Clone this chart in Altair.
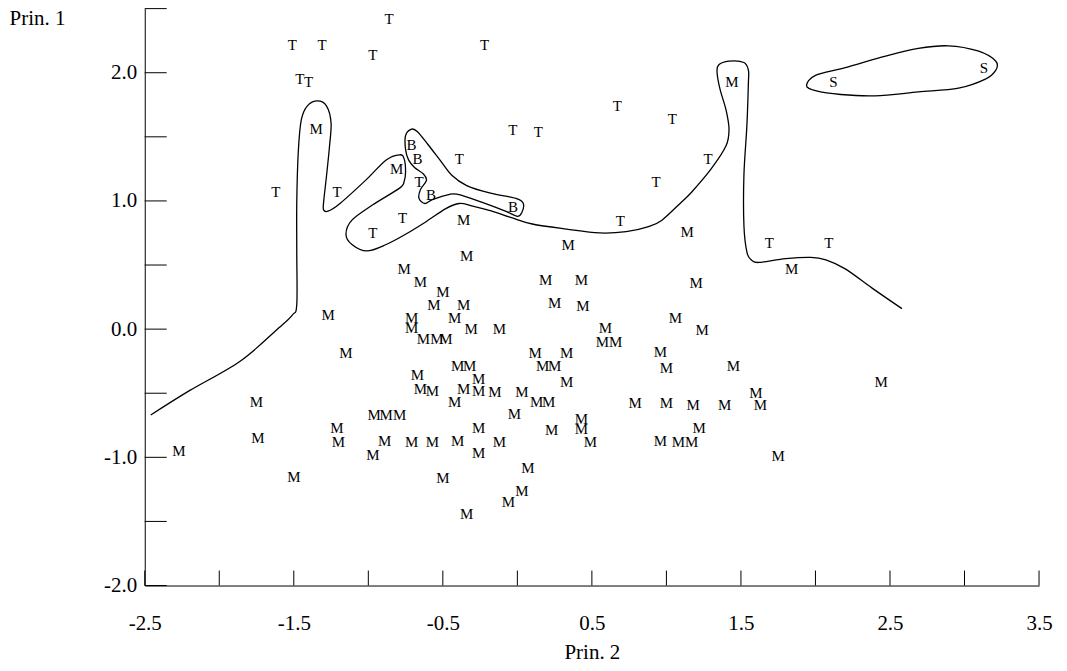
import altair as alt
import pandas as pd

# ---- point labels (Prin. 2 = x, Prin. 1 = y) ----
t_x = [-0.86, -1.51, -1.31, -0.97, -0.22, -1.46, -1.40, -1.62, -1.21, -0.03, 0.14,
       0.67, 1.04, 1.28, 0.93, -0.39, -0.66, -0.77, -0.97, 0.69, 1.69, 2.09]
t_y = [2.42, 2.22, 2.22, 2.14, 2.22, 1.95, 1.93, 1.07, 1.07, 1.55, 1.54,
       1.74, 1.64, 1.33, 1.15, 1.33, 1.15, 0.87, 0.75, 0.84, 0.67, 0.67]

m_x = [-1.35, -0.81, 1.44, -0.36,
       0.34, 1.14, -0.34, -0.76, -0.65, 0.19, 0.43, 1.20, 1.84, -0.50,
       -0.56, -0.36, 0.25, 0.44, -1.27, -0.71, -0.42, -0.71, -0.31, -0.12,
       -0.63, -0.54, -0.48, 0.59, 0.57, 0.66, 1.06, 1.24, -1.15, 0.12,
       0.33, 0.96, -0.40, -0.32, 0.17, 0.25, 1.00, 1.45, -0.67, -0.26,
       0.33, 2.44, -0.65, -0.57, -0.36, -0.26, -0.15, 0.03, 1.60, -0.42,
       0.13, 0.21, 0.79, 1.00, 1.18, 1.39, 1.63, -1.75, -0.96, -0.88,
       -0.79, -0.02, 0.43, -1.21, -0.26, 0.23, 0.43, 1.22, -1.74, -1.20,
       -0.89, -0.71, -0.57, -0.40, -0.12, 0.49, 0.96, 1.08, 1.17, -0.26,
       -0.97, -2.27, 1.75, 0.07, -0.50, -1.50, 0.03, -0.06, -0.34]
m_y = [1.56, 1.25, 1.93, 0.85,
       0.66, 0.76, 0.57, 0.47, 0.37, 0.38, 0.38, 0.36, 0.47, 0.29,
       0.19, 0.19, 0.20, 0.18, 0.11, 0.09, 0.09, 0.01, 0.00, 0.00,
       -0.08, -0.08, -0.08, 0.01, -0.10, -0.10, 0.09, -0.01, -0.19, -0.19,
       -0.19, -0.18, -0.29, -0.29, -0.29, -0.29, -0.30, -0.29, -0.36, -0.39,
       -0.41, -0.41, -0.47, -0.48, -0.47, -0.48, -0.49, -0.49, -0.50, -0.57,
       -0.57, -0.57, -0.58, -0.58, -0.59, -0.59, -0.59, -0.57, -0.67, -0.67,
       -0.67, -0.66, -0.70, -0.77, -0.77, -0.79, -0.78, -0.77, -0.85, -0.88,
       -0.87, -0.88, -0.88, -0.87, -0.88, -0.88, -0.87, -0.88, -0.88, -0.97,
       -0.98, -0.95, -0.99, -1.08, -1.16, -1.15, -1.26, -1.35, -1.44]

b_x = [-0.71, -0.67, -0.58, -0.03]
b_y = [1.44, 1.33, 1.05, 0.95]

s_x = [2.12, 3.13]
s_y = [1.93, 2.04]

# ---- boundary curves ----
curve_x = [-2.46, -2.20, -1.86, -1.60, -1.51, -1.48, -1.48, -1.48, -1.47, -1.45, -1.41,
           -1.34, -1.28, -1.25, -1.26, -1.28, -1.30, -1.30, -1.27, -1.19, -1.01, -0.88,
           -0.79, -0.76, -0.75, -0.76, -0.79, -0.97, -1.11, -1.15, -1.11, -1.01, -0.88,
           -0.75, -0.61, -0.48, -0.39, -0.30, -0.17, -0.04, 0.10, 0.33, 0.55, 0.73,
           0.88, 0.97, 1.10, 1.17, 1.30, 1.40, 1.42, 1.40, 1.36, 1.34, 1.35, 1.42,
           1.52, 1.55, 1.55, 1.54, 1.52, 1.52, 1.54, 1.57, 1.62, 1.80, 1.97, 2.07,
           2.20, 2.38, 2.58]
curve_y = [-0.67, -0.48, -0.25, 0.01, 0.11, 0.19, 0.60, 0.99, 1.38, 1.63, 1.74,
           1.78, 1.74, 1.61, 1.43, 1.20, 0.99, 0.93, 0.92, 0.98, 1.17, 1.32,
           1.36, 1.33, 1.23, 1.15, 1.10, 0.97, 0.85, 0.74, 0.66, 0.61, 0.66,
           0.74, 0.84, 0.94, 0.98, 0.96, 0.92, 0.87, 0.82, 0.78, 0.75, 0.76,
           0.80, 0.85, 0.99, 1.07, 1.25, 1.43, 1.56, 1.71, 1.87, 2.00, 2.06, 2.09,
           2.08, 2.02, 1.92, 1.59, 1.20, 0.81, 0.60, 0.54, 0.52, 0.55, 0.56, 0.54,
           0.47, 0.32, 0.16]

b_loop_x = [-0.75, -0.71, -0.67, -0.60, -0.52, -0.44, -0.34, -0.18, -0.01, 0.04, 0.03,
            0.00, -0.08, -0.24, -0.39, -0.46, -0.57, -0.62, -0.66, -0.65, -0.61, -0.63,
            -0.69, -0.73, -0.75]
b_loop_y = [1.51, 1.56, 1.54, 1.44, 1.32, 1.20, 1.12, 1.06, 1.02, 0.98, 0.91,
            0.88, 0.92, 0.99, 1.05, 1.05, 1.01, 0.98, 1.02, 1.09, 1.16, 1.21,
            1.26, 1.32, 1.40]

s_loop_x = [1.94, 2.00, 2.20, 2.47, 2.69, 2.89, 3.09, 3.21, 3.21, 3.14, 2.96, 2.69,
            2.40, 2.17, 2.00]
s_loop_y = [1.90, 1.98, 2.04, 2.13, 2.19, 2.21, 2.17, 2.09, 2.02, 1.95, 1.88, 1.85,
            1.82, 1.83, 1.86]

# ---- axis ticks / labels ----
x_tick_values = [-2.5, -2.0, -1.5, -1.0, -0.5, 0.0, 0.5, 1.0, 1.5, 2.0, 2.5, 3.0, 3.5]
x_label_values = [-2.5, -1.5, -0.5, 0.5, 1.5, 2.5, 3.5]
y_tick_values = [-2.0, -1.5, -1.0, -0.5, 0.0, 0.5, 1.0, 1.5, 2.0, 2.5]
y_label_values = [-2.0, -1.0, 0.0, 1.0, 2.0]

FONT = "Liberation Serif"
W, H = 896, 578

pts = pd.DataFrame({
    "x": t_x + m_x + b_x + s_x,
    "y": t_y + m_y + b_y + s_y,
    "g": ["T"] * len(t_x) + ["M"] * len(m_x) + ["B"] * len(b_x) + ["S"] * len(s_x),
})
curve = pd.DataFrame({"x": curve_x, "y": curve_y, "i": list(range(len(curve_x)))})
loops = pd.DataFrame({
    "x": b_loop_x + s_loop_x,
    "y": b_loop_y + s_loop_y,
    "k": ["B"] * len(b_loop_x) + ["S"] * len(s_loop_x),
    "i": list(range(len(b_loop_x))) + list(range(len(s_loop_x))),
})
xt = pd.DataFrame({"x": x_tick_values})
yt = pd.DataFrame({"y": y_tick_values})

lab_expr = "datum.value < 0 ? '-' + format(-datum.value, '.1f') : format(datum.value, '.1f')"

xscale = alt.Scale(domain=[-2.5, 3.5], nice=False, zero=False)
yscale = alt.Scale(domain=[-2.0, 2.5], nice=False, zero=False)

xaxis = alt.Axis(values=x_label_values, ticks=False, grid=False, domainColor="black",
                 domainWidth=1, labelExpr=lab_expr, labelFont=FONT, labelFontSize=21,
                 labelColor="black", labelPadding=44, labelBaseline="alphabetic",
                 labelFlush=False, labelOverlap=False,
                 title="Prin. 2", titleFont=FONT, titleFontSize=21, titleFontWeight="normal",
                 titleColor="black", titleX=W / 2, titleY=73, titleBaseline="alphabetic",
                 titleAlign="center")
yaxis = alt.Axis(values=y_label_values, ticks=False, grid=False, domainColor="black",
                 domainWidth=1, labelExpr=lab_expr, labelFont=FONT, labelFontSize=21,
                 labelColor="black", labelPadding=8, labelBaseline="middle",
                 labelFlush=False, labelOverlap=False,
                 title="Prin. 1", titleFont=FONT, titleFontSize=21, titleFontWeight="normal",
                 titleColor="black", titleAngle=0, titleAlign="left", titleBaseline="alphabetic",
                 titleX=-136, titleY=16)

X = alt.X("x:Q", scale=xscale, axis=xaxis)
Y = alt.Y("y:Q", scale=yscale, axis=yaxis)

text_layer = alt.Chart(pts).mark_text(font=FONT, fontSize=15, color="black",
                                      align="center", baseline="middle").encode(
    x=X, y=Y, text="g:N")

curve_layer = alt.Chart(curve).mark_line(color="black", strokeWidth=1.3,
                                         interpolate="cardinal").encode(
    x=X, y=Y, order="i:Q")

loop_layer = alt.Chart(loops).mark_line(color="black", strokeWidth=1.3,
                                        interpolate="cardinal-closed").encode(
    x=X, y=Y, detail="k:N", order="i:Q")

xtick_layer = alt.Chart(xt).mark_rule(color="black", strokeWidth=1).encode(
    x=X, y=alt.value(H), y2=alt.value(H - 15))

ytick_layer = alt.Chart(yt).mark_rule(color="black", strokeWidth=1).encode(
    y=Y, x=alt.value(0), x2=alt.value(22))

chart = alt.layer(curve_layer, loop_layer, xtick_layer, ytick_layer, text_layer).properties(
    width=W, height=H,
    autosize=alt.AutoSizeParams(type="none"),
    padding={"left": 137, "top": 0, "right": 20, "bottom": 80},
    background="white",
).configure_view(stroke=None)

chart.save("out.html", embed_options={"renderer": "svg", "actions": False})
